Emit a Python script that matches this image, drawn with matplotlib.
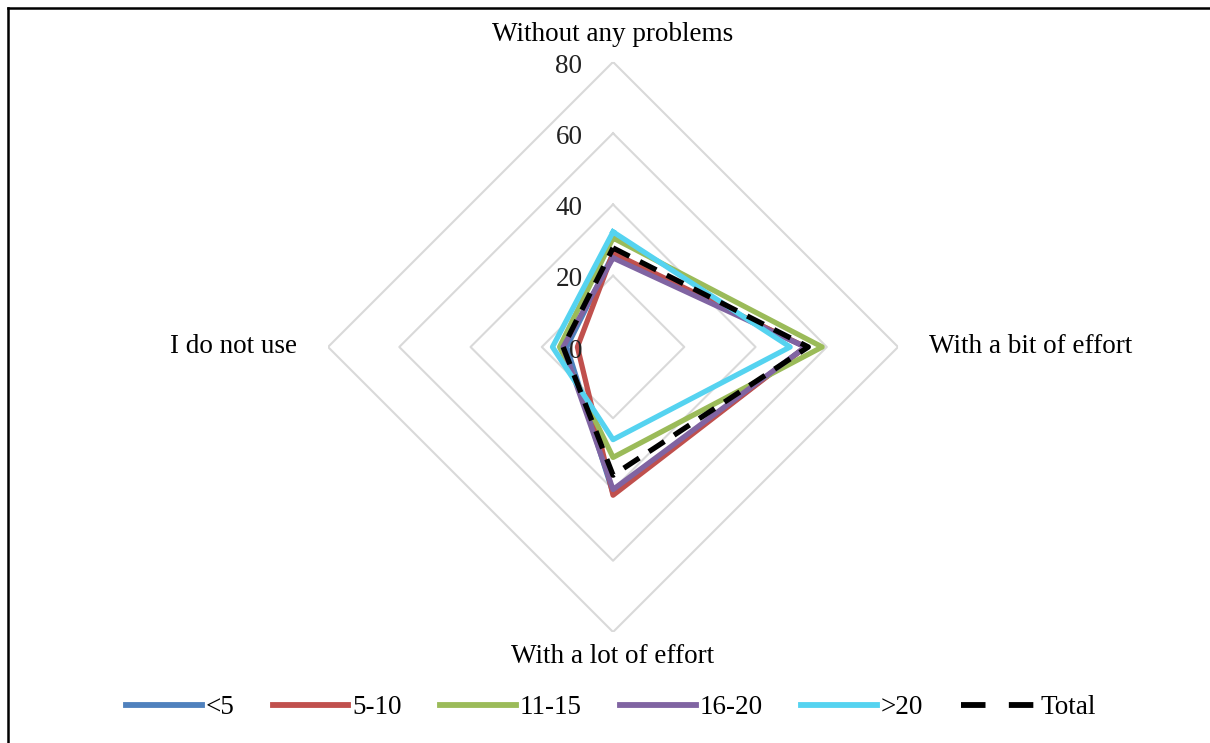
# Radar: ease of use by group, Excel-like diamond grid.

import numpy as np
import matplotlib
matplotlib.use("Agg")
from matplotlib import pyplot as plt
from matplotlib.lines import Line2D

CATEGORIAS = ["Without any problems", "With a bit of effort",
              "With a lot of effort", "I do not use"]
GRUPOS = ["<5", "5-10", "11-15", "16-20", ">20", "Total"]

v_menos5 = [26, 54, 41, 13]
v_5_10 = [26.4, 54, 41.6, 10]
v_11_15 = [30.6, 58.7, 31, 15]
v_16_20 = [25, 54, 40, 14]
v_mais20 = [32.3, 49.7, 26, 17]
v_total = [27.8, 54.8, 36, 14]

ANEIS = [0, 20, 40, 60, 80]

CORES = ["#4F81BD", "#C0504D", "#9BBB59", "#8064A2", "#55D3F0", "black"]

plt.rcParams["font.family"] = ["Liberation Serif", "DejaVu Serif"]
FS = 19.5

fig = plt.figure(figsize=(12.1, 7.43), dpi=100)
ax = fig.add_axes([0.2711, 0.1494, 0.4711, 0.7672], projection="polar")
ax.set_theta_offset(np.pi / 2)
ax.set_theta_direction(-1)
ax.set_ylim(0, 80)
ax.axis("off")

ang = np.arange(len(CATEGORIAS)) * 2 * np.pi / len(CATEGORIAS)
ang_f = np.append(ang, ang[0])

for r in ANEIS[1:]:
    ax.plot(ang_f, [r] * len(ang_f), color="#d9d9d9", lw=1.5, zorder=1)

series = [v_menos5, v_5_10, v_11_15, v_16_20, v_mais20, v_total]
for nome, vals, cor in zip(GRUPOS, series, CORES):
    vv = np.append(vals, vals[0])
    if nome == "Total":
        ax.plot(ang_f, vv, color=cor, lw=3.8, ls=(0, (3.5, 2.2)), zorder=5)
    else:
        ax.plot(ang_f, vv, color=cor, lw=3.8, zorder=3)

for r in ANEIS:
    ax.annotate(str(r), xy=(0, r), xytext=(-22, -3), textcoords="offset points",
                ha="right", va="center", fontsize=FS, color="#222222")

# category labels
ax.annotate(CATEGORIAS[0], xy=(ang[0], 80), xytext=(0, 11), textcoords="offset points",
            ha="center", va="bottom", fontsize=FS)
ax.annotate(CATEGORIAS[1], xy=(ang[1], 80), xytext=(22, 0), textcoords="offset points",
            ha="left", va="center", fontsize=FS)
ax.annotate(CATEGORIAS[2], xy=(ang[2], 80), xytext=(0, -9), textcoords="offset points",
            ha="center", va="top", fontsize=FS)
ax.annotate(CATEGORIAS[3], xy=(ang[3], 80), xytext=(-22, 0), textcoords="offset points",
            ha="right", va="center", fontsize=FS)

handles = []
for nome, cor in zip(GRUPOS, CORES):
    if nome == "Total":
        handles.append(Line2D([], [], color=cor, lw=4.2, ls=(0, (4.2, 4.0))))
    else:
        handles.append(Line2D([], [], color=cor, lw=4.2))
fig.legend(handles, GRUPOS, loc="center", bbox_to_anchor=(0.505, 1 - 708 / 743),
           ncol=6, frameon=False, fontsize=FS, handlelength=2.8,
           handletextpad=0.15, columnspacing=1.4)

# moldura (so borda superior e esquerda visiveis)
fig.add_artist(Line2D([7.5 / 1210, 7.5 / 1210], [0, 1 - 7.5 / 743], color="black",
                      lw=1.8, transform=fig.transFigure))
fig.add_artist(Line2D([7.5 / 1210, 1], [1 - 7.5 / 743, 1 - 7.5 / 743], color="black",
                      lw=1.8, transform=fig.transFigure))

fig.savefig("out.png", dpi=100)
